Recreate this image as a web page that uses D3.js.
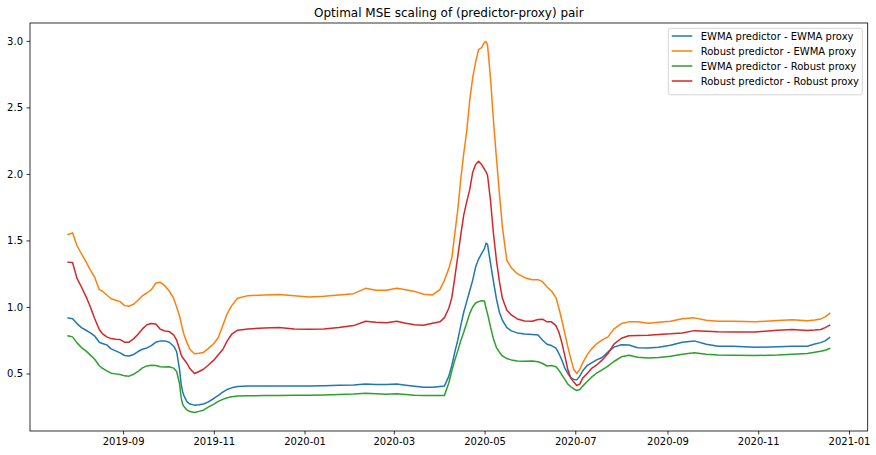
<!DOCTYPE html>
<html>
<head>
<meta charset="utf-8">
<script src="https://cdn.jsdelivr.net/npm/d3@7"></script>
<style>
  body { margin: 0; background: #fff; }
  svg { display: block; font-family: "DejaVu Sans", sans-serif; }
</style>
</head>
<body>
<div id="chart"></div>
<script>
// dates shared by every series
const dates = [
  "2019-07-26","2019-07-29","2019-08-01","2019-08-04","2019-08-07","2019-08-10","2019-08-13","2019-08-16","2019-08-18","2019-08-21",
  "2019-08-24","2019-08-27","2019-08-30","2019-09-02","2019-09-05","2019-09-08","2019-09-11","2019-09-14","2019-09-17","2019-09-20",
  "2019-09-23","2019-09-26","2019-09-29","2019-10-02","2019-10-05","2019-10-07","2019-10-09","2019-10-10","2019-10-11","2019-10-12",
  "2019-10-14","2019-10-16","2019-10-19","2019-10-22","2019-10-25","2019-10-28","2019-11-01","2019-11-04","2019-11-07","2019-11-10",
  "2019-11-13","2019-11-17","2019-11-24","2019-12-05","2019-12-15","2019-12-25","2020-01-04","2020-01-14","2020-01-24","2020-02-03",
  "2020-02-11","2020-02-18","2020-02-25","2020-03-03","2020-03-09","2020-03-15","2020-03-21","2020-03-27","2020-04-01","2020-04-04",
  "2020-04-07","2020-04-09","2020-04-11","2020-04-13","2020-04-15","2020-04-17","2020-04-19","2020-04-21","2020-04-23","2020-04-25",
  "2020-04-27","2020-04-29","2020-05-01","2020-05-02","2020-05-03","2020-05-05","2020-05-07","2020-05-09","2020-05-11","2020-05-13",
  "2020-05-16","2020-05-19","2020-05-23","2020-05-28","2020-06-02","2020-06-06","2020-06-09","2020-06-12","2020-06-15","2020-06-18",
  "2020-06-20","2020-06-22","2020-06-24","2020-06-26","2020-06-28","2020-06-30","2020-07-02","2020-07-04","2020-07-06","2020-07-09",
  "2020-07-12","2020-07-15","2020-07-19","2020-07-23","2020-07-27","2020-08-01","2020-08-06","2020-08-12","2020-08-19","2020-08-26",
  "2020-09-03","2020-09-11","2020-09-19","2020-09-27","2020-10-05","2020-10-15","2020-10-30","2020-11-14","2020-11-24","2020-12-04",
  "2020-12-09","2020-12-13","2020-12-16","2020-12-19"
];

const ewmaEwma = [
  0.918,0.912,0.875,0.845,0.825,0.805,0.780,0.735,0.725,0.715,
  0.685,0.670,0.655,0.635,0.632,0.642,0.665,0.682,0.692,0.710,
  0.735,0.745,0.745,0.735,0.705,0.665,0.525,0.420,0.365,0.330,
  0.287,0.270,0.262,0.265,0.271,0.285,0.312,0.335,0.360,0.380,
  0.392,0.402,0.405,0.406,0.405,0.405,0.405,0.408,0.411,0.414,
  0.420,0.418,0.417,0.420,0.412,0.404,0.396,0.396,0.402,0.405,
  0.480,0.560,0.660,0.750,0.860,0.960,1.040,1.120,1.200,1.300,
  1.360,1.400,1.440,1.480,1.470,1.330,1.190,1.060,0.960,0.900,
  0.845,0.820,0.805,0.797,0.793,0.790,0.750,0.720,0.710,0.690,
  0.650,0.600,0.540,0.500,0.468,0.455,0.452,0.480,0.520,0.560,
  0.580,0.600,0.620,0.662,0.698,0.716,0.714,0.694,0.692,0.697,
  0.712,0.735,0.745,0.720,0.705,0.705,0.697,0.700,0.704,0.705,
  0.722,0.732,0.745,0.770
];

const robustEwma = [
  1.545,1.557,1.460,1.400,1.340,1.277,1.220,1.130,1.120,1.090,
  1.062,1.050,1.040,1.010,1.005,1.020,1.050,1.085,1.105,1.130,
  1.180,1.185,1.160,1.120,1.064,1.000,0.930,0.880,0.830,0.790,
  0.730,0.680,0.648,0.652,0.658,0.685,0.725,0.770,0.860,0.950,
  1.010,1.065,1.085,1.090,1.094,1.085,1.074,1.080,1.090,1.100,
  1.140,1.125,1.125,1.140,1.130,1.117,1.095,1.090,1.130,1.200,
  1.290,1.370,1.550,1.730,1.960,2.150,2.320,2.550,2.720,2.840,
  2.935,2.950,2.990,2.995,2.970,2.720,2.400,2.120,1.850,1.600,
  1.350,1.295,1.250,1.220,1.205,1.205,1.190,1.150,1.120,1.070,
  0.990,0.900,0.800,0.700,0.610,0.530,0.500,0.530,0.580,0.640,
  0.685,0.720,0.750,0.775,0.835,0.875,0.888,0.888,0.878,0.885,
  0.893,0.912,0.918,0.900,0.893,0.893,0.888,0.898,0.903,0.897,
  0.902,0.910,0.925,0.952
];

const ewmaRobust = [
  0.783,0.775,0.730,0.695,0.670,0.638,0.605,0.558,0.540,0.520,
  0.502,0.497,0.492,0.482,0.480,0.494,0.515,0.542,0.557,0.562,
  0.560,0.550,0.548,0.550,0.540,0.515,0.420,0.320,0.270,0.250,
  0.225,0.214,0.207,0.215,0.224,0.245,0.269,0.290,0.305,0.318,
  0.325,0.330,0.333,0.334,0.335,0.336,0.336,0.338,0.342,0.345,
  0.352,0.348,0.344,0.347,0.342,0.337,0.335,0.335,0.335,0.335,
  0.430,0.520,0.600,0.670,0.745,0.810,0.880,0.950,1.000,1.030,
  1.040,1.046,1.044,0.990,0.950,0.850,0.760,0.695,0.660,0.632,
  0.612,0.602,0.593,0.592,0.594,0.588,0.575,0.556,0.560,0.550,
  0.525,0.490,0.455,0.420,0.400,0.385,0.372,0.380,0.405,0.440,
  0.472,0.500,0.527,0.555,0.590,0.625,0.637,0.622,0.617,0.620,
  0.630,0.645,0.655,0.645,0.638,0.637,0.635,0.638,0.645,0.650,
  0.660,0.667,0.675,0.688
];

const robustRobust = [
  1.337,1.334,1.215,1.150,1.080,1.000,0.910,0.830,0.800,0.775,
  0.762,0.758,0.755,0.735,0.735,0.760,0.795,0.835,0.866,0.876,
  0.872,0.832,0.820,0.815,0.790,0.750,0.680,0.640,0.620,0.605,
  0.575,0.535,0.500,0.515,0.532,0.560,0.600,0.640,0.680,0.745,
  0.795,0.825,0.835,0.842,0.846,0.834,0.833,0.835,0.845,0.860,
  0.893,0.885,0.881,0.893,0.878,0.866,0.862,0.878,0.888,0.920,
  0.990,1.070,1.220,1.380,1.540,1.690,1.790,1.880,2.010,2.070,
  2.095,2.070,2.035,2.016,1.990,1.800,1.550,1.350,1.190,1.065,
  0.976,0.940,0.910,0.895,0.893,0.905,0.908,0.888,0.888,0.860,
  0.810,0.730,0.630,0.530,0.465,0.435,0.410,0.420,0.465,0.500,
  0.538,0.560,0.600,0.650,0.720,0.765,0.783,0.785,0.787,0.793,
  0.798,0.805,0.822,0.818,0.813,0.812,0.811,0.825,0.830,0.823,
  0.826,0.831,0.845,0.863
];

const seriesNames = [
  "EWMA predictor - EWMA proxy",
  "Robust predictor - EWMA proxy",
  "EWMA predictor - Robust proxy",
  "Robust predictor - Robust proxy"
];
const seriesValues = [ewmaEwma, robustEwma, ewmaRobust, robustRobust];
const colors = ["#1f77b4", "#ff7f0e", "#2ca02c", "#d62728"];
const yTicks = [0.5, 1.0, 1.5, 2.0, 2.5, 3.0];
const title = "Optimal MSE scaling of (predictor-proxy) pair";

const width = 876, height = 455;
const margin = {top: 23, right: 8.3, bottom: 24, left: 30};

const parse = d3.timeParse("%Y-%m-%d");
const x = dates.map(parse);

const svg = d3.select("#chart").append("svg")
  .attr("width", width)
  .attr("height", height);

// matplotlib style 5% margins around the data
const xExt = d3.extent(x);
const xPad = (xExt[1] - xExt[0]) * 0.05;
const allVals = seriesValues.flat();
const yMin = d3.min(allVals), yMax = d3.max(allVals);
const yPad = (yMax - yMin) * 0.05;

const xScale = d3.scaleTime()
  .domain([new Date(+xExt[0] - xPad), new Date(+xExt[1] + xPad)])
  .range([margin.left, width - margin.right]);
const yScale = d3.scaleLinear()
  .domain([yMin - yPad, yMax + yPad])
  .range([height - margin.bottom, margin.top]);

// title
svg.append("text")
  .attr("x", (margin.left + width - margin.right) / 2)
  .attr("y", margin.top - 6)
  .attr("text-anchor", "middle")
  .attr("font-size", 12)
  .attr("fill", "#000")
  .text(title);

// lines
const line = d3.line()
  .x((d, i) => xScale(x[i]))
  .y(d => yScale(d));

seriesValues.forEach((vals, k) => {
  svg.append("path")
    .datum(vals)
    .attr("d", line)
    .attr("fill", "none")
    .attr("stroke", colors[k])
    .attr("stroke-width", 1.5)
    .attr("stroke-linejoin", "round")
    .attr("stroke-linecap", "square");
});

// axes
const xTickVals = d3.timeMonth.every(2).range(new Date(2019, 8, 1), new Date(2021, 1, 1));
const xAxis = svg.append("g")
  .attr("transform", `translate(0,${height - margin.bottom})`)
  .call(d3.axisBottom(xScale)
    .tickValues(xTickVals)
    .tickFormat(d3.timeFormat("%Y-%m"))
    .tickSizeInner(3.5).tickSizeOuter(0).tickPadding(3.5));

const yAxis = svg.append("g")
  .attr("transform", `translate(${margin.left},0)`)
  .call(d3.axisLeft(yScale)
    .tickValues(yTicks)
    .tickFormat(d3.format(".1f"))
    .tickSizeInner(3.5).tickSizeOuter(0).tickPadding(3.5));

[xAxis, yAxis].forEach(g => {
  g.select(".domain").remove();
  g.selectAll(".tick line").attr("stroke", "#000").attr("stroke-width", 0.8);
  g.selectAll(".tick text")
    .attr("font-size", 10)
    .attr("font-family", "DejaVu Sans, sans-serif")
    .attr("fill", "#000");
});

// frame
svg.append("rect")
  .attr("x", margin.left)
  .attr("y", margin.top)
  .attr("width", width - margin.right - margin.left)
  .attr("height", height - margin.bottom - margin.top)
  .attr("fill", "none")
  .attr("stroke", "#000")
  .attr("stroke-width", 0.8);

// legend
const legend = svg.append("g");
const rowH = 15;
const labels = legend.selectAll("text")
  .data(seriesNames)
  .enter().append("text")
  .attr("font-size", 10)
  .attr("fill", "#000")
  .attr("dy", "0.35em")
  .text(d => d);
const textW = d3.max(labels.nodes(), n => n.getComputedTextLength());
const boxW = 3.3 + 20 + 8.4 + textW + 4;
const boxH = 4 + rowH * seriesNames.length + 2.5;
const boxX = width - margin.right - 5.4 - boxW;
const boxY = margin.top + 5.3;

legend.insert("rect", "text")
  .attr("x", boxX)
  .attr("y", boxY)
  .attr("width", boxW)
  .attr("height", boxH)
  .attr("rx", 2)
  .attr("fill", "#fff")
  .attr("fill-opacity", 0.8)
  .attr("stroke", "#cccccc")
  .attr("stroke-width", 0.8);

seriesNames.forEach((name, k) => {
  const cy = boxY + 7.7 + k * rowH;
  legend.append("line")
    .attr("x1", boxX + 3.4)
    .attr("x2", boxX + 24)
    .attr("y1", cy)
    .attr("y2", cy)
    .attr("stroke", colors[k])
    .attr("stroke-width", 1.5);
});
labels
  .attr("x", boxX + 32.4)
  .attr("y", (d, k) => boxY + 7.7 + k * rowH);
</script>
</body>
</html>
